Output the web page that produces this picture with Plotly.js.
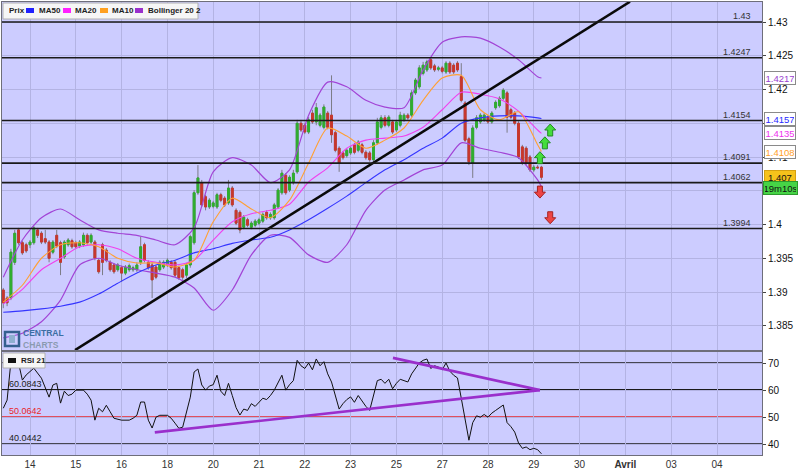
<!DOCTYPE html>
<html><head><meta charset="utf-8">
<script src="https://cdn.plot.ly/plotly-3.0.1.min.js"></script>
<style>html,body{margin:0;padding:0;background:#fff}#chart{width:806px;height:469px}</style>
</head><body><div id="chart"></div>
<script>
// ---------- DATA ----------
const dayTickIdx = [7,19,31,43,55,67,79,91,103,115,127,139,151,163,175,187];
const dayLabels = ['14','15','16','18','20','21','22','23','25','27','28','29','30','<b>Avril</b>','03','04'];
const priceTicks = [1.385,1.39,1.395,1.4,1.405,1.41,1.415,1.42,1.425,1.43];
const priceTickText = ['1.385','1.39','1.395','1.4','','1.41','','1.42','1.425','1.43'];

const open = [1.3903,1.3891,1.3891,1.3944,1.3992,1.3973,1.3970,1.3970,1.3973,1.3992,
1.3987,1.3979,1.3974,1.3959,1.3984,1.3973,1.3952,1.3970,1.3976,1.3973,
1.3968,1.3970,1.3984,1.3974,1.3974,1.3947,1.3970,1.3962,1.3944,1.3940,
1.3933,1.3936,1.3928,1.3933,1.3933,1.3933,1.3944,1.3970,1.3944,1.3940,
1.3937,1.3933,1.3937,1.3940,1.3944,1.3944,1.3936,1.3933,1.3925,1.3940,
1.3973,1.4047,1.4062,1.4041,1.4026,1.4027,1.4026,1.4044,1.4039,1.4032,
1.4054,1.4021,1.4018,1.3996,1.4007,1.3996,1.3999,1.4002,1.4005,1.4018,
1.4010,1.4010,1.4026,1.4047,1.4073,1.4051,1.4062,1.4078,1.4150,1.4147,
1.4137,1.4165,1.4152,1.4147,1.4144,1.4165,1.4162,1.4136,1.4113,1.4106,
1.4102,1.4106,1.4118,1.4110,1.4118,1.4107,1.4106,1.4096,1.4121,1.4144,
1.4158,1.4147,1.4152,1.4140,1.4147,1.4155,1.4162,1.4162,1.4195,1.4204,
1.4224,1.4229,1.4244,1.4235,1.4230,1.4232,1.4226,1.4239,1.4236,1.4239,
1.4219,1.4180,1.4127,1.4091,1.4144,1.4152,1.4155,1.4159,1.4152,1.4173,
1.4176,1.4187,1.4195,1.4170,1.4165,1.4150,1.4115,1.4113,1.4100,1.4081,
1.4085,1.4085];
const high = [1.3906,1.3894,1.3964,1.3992,1.3995,1.3976,1.3973,1.3977,1.3998,1.3995,
1.3990,1.3992,1.3977,1.3977,1.3992,1.3976,1.3977,1.3980,1.3979,1.3976,
1.3977,1.3988,1.3987,1.3987,1.3977,1.3950,1.3973,1.3965,1.3947,1.3943,
1.3943,1.3939,1.3940,1.3942,1.3939,1.3944,1.3982,1.3973,1.3947,1.3944,
1.3940,1.3947,1.3947,1.3950,1.3947,1.3947,1.3939,1.3936,1.3943,1.3985,
1.4051,1.4088,1.4066,1.4044,1.4039,1.4035,1.4047,1.4047,1.4042,1.4066,
1.4057,1.4024,1.4021,1.4014,1.4010,1.4005,1.4008,1.4010,1.4018,1.4021,
1.4018,1.4032,1.4054,1.4081,1.4076,1.4073,1.4081,1.4155,1.4155,1.4150,
1.4159,1.4170,1.4180,1.4165,1.4178,1.4168,1.4221,1.4139,1.4116,1.4109,
1.4113,1.4116,1.4121,1.4125,1.4121,1.4110,1.4109,1.4125,1.4158,1.4162,
1.4162,1.4162,1.4155,1.4155,1.4167,1.4165,1.4165,1.4199,1.4217,1.4236,
1.4241,1.4244,1.4248,1.4238,1.4235,1.4235,1.4242,1.4242,1.4239,1.4242,
1.4239,1.4183,1.4130,1.4147,1.4162,1.4165,1.4165,1.4162,1.4168,1.4184,
1.4190,1.4202,1.4198,1.4173,1.4168,1.4153,1.4118,1.4116,1.4103,1.4088,
1.4088,1.4087];
const low = [1.3876,1.3879,1.3888,1.3940,1.3970,1.3955,1.3958,1.3965,1.3970,1.3980,
1.3971,1.3971,1.3944,1.3956,1.3965,1.3925,1.3949,1.3967,1.3964,1.3964,
1.3965,1.3967,1.3970,1.3971,1.3947,1.3927,1.3925,1.3944,1.3930,1.3927,
1.3930,1.3915,1.3925,1.3930,1.3930,1.3930,1.3940,1.3944,1.3933,1.3891,
1.3919,1.3930,1.3934,1.3937,1.3933,1.3922,1.3918,1.3918,1.3921,1.3936,
1.3970,1.4044,1.4026,1.4021,1.4023,1.4024,1.4023,1.4033,1.4026,1.4029,
1.4026,1.3999,1.3987,1.3993,1.3996,1.3993,1.3996,1.3999,1.4002,1.4007,
1.4007,1.4007,1.4023,1.4044,1.4044,1.4048,1.4059,1.4075,1.4137,1.4134,
1.4134,1.4149,1.4147,1.4144,1.4141,1.4141,1.4121,1.4107,1.4078,1.4096,
1.4099,1.4103,1.4104,1.4107,1.4104,1.4096,1.4093,1.4093,1.4118,1.4141,
1.4144,1.4144,1.4134,1.4137,1.4144,1.4152,1.4155,1.4159,1.4192,1.4201,
1.4221,1.4226,1.4229,1.4226,1.4227,1.4224,1.4223,1.4223,1.4223,1.4226,
1.4181,1.4122,1.4088,1.4069,1.4141,1.4149,1.4152,1.4149,1.4149,1.4170,
1.4173,1.4184,1.4136,1.4156,1.4147,1.4097,1.4088,1.4088,1.4078,1.4078,
1.4082,1.4066];
const close = [1.3884,1.3884,1.3959,1.3987,1.3973,1.3958,1.3961,1.3974,1.3995,1.3984,
1.3974,1.3974,1.3950,1.3974,1.3968,1.3944,1.3974,1.3977,1.3967,1.3967,
1.3974,1.3984,1.3973,1.3984,1.3950,1.3930,1.3944,1.3947,1.3933,1.3930,
1.3940,1.3928,1.3937,1.3939,1.3936,1.3940,1.3967,1.3947,1.3936,1.3918,
1.3922,1.3944,1.3944,1.3947,1.3936,1.3925,1.3921,1.3922,1.3940,1.3982,
1.4047,1.4069,1.4029,1.4026,1.4036,1.4032,1.4044,1.4036,1.4029,1.4054,
1.4029,1.4002,1.3992,1.4011,1.3999,1.4002,1.4005,1.4007,1.4015,1.4010,
1.4015,1.4029,1.4051,1.4076,1.4047,1.4070,1.4076,1.4150,1.4140,1.4137,
1.4155,1.4152,1.4173,1.4162,1.4174,1.4144,1.4133,1.4110,1.4091,1.4099,
1.4110,1.4113,1.4107,1.4122,1.4107,1.4099,1.4096,1.4121,1.4152,1.4158,
1.4147,1.4159,1.4137,1.4152,1.4162,1.4162,1.4158,1.4195,1.4214,1.4232,
1.4236,1.4241,1.4232,1.4229,1.4232,1.4227,1.4239,1.4226,1.4226,1.4229,
1.4184,1.4125,1.4093,1.4143,1.4158,1.4162,1.4162,1.4152,1.4165,1.4181,
1.4187,1.4199,1.4159,1.4159,1.4150,1.4100,1.4091,1.4091,1.4081,1.4085,
1.4084,1.4070];

const lineIdx = [0,5,10,15,20,25,30,35,40,45,50,55,60,65,70,75,80,85,90,95,100,105,110,115,120,125,130,135,140,141];
const ma50 = [1.3870,1.3872,1.3875,1.3879,1.3885,1.3897,1.3913,1.3928,1.3940,1.3947,1.3958,1.3964,1.3972,1.3977,1.3981,1.3992,1.4007,1.4024,1.4042,1.4062,1.4081,1.4096,1.4113,1.4128,1.4150,1.4158,1.4161,1.4161,1.4158,1.4157];
const ma20 = [1.3882,1.3904,1.3933,1.3950,1.3967,1.3970,1.3964,1.3950,1.3944,1.3940,1.3947,1.3977,1.4004,1.4016,1.4021,1.4030,1.4063,1.4084,1.4113,1.4125,1.4128,1.4131,1.4144,1.4170,1.4196,1.4193,1.4186,1.4168,1.4140,1.4135];
const ma10 = [1.3885,1.3910,1.3950,1.3970,1.3973,1.3967,1.3950,1.3943,1.3943,1.3937,1.3947,1.4004,1.4039,1.4023,1.4010,1.4036,1.4091,1.4143,1.4131,1.4113,1.4125,1.4143,1.4184,1.4217,1.4221,1.4170,1.4155,1.4167,1.4118,1.4108];
const bbUpper = [1.3922,1.3977,1.4010,1.4023,1.4007,1.3992,1.3987,1.3984,1.3977,1.3970,1.3995,1.4078,1.4099,1.4088,1.4062,1.4081,1.4162,1.4211,1.4204,1.4184,1.4174,1.4173,1.4229,1.4270,1.4278,1.4276,1.4263,1.4244,1.4219,1.4217];
const bbLower = [1.3832,1.3839,1.3856,1.3888,1.3940,1.3950,1.3940,1.3933,1.3928,1.3922,1.3906,1.3873,1.3903,1.3955,1.3984,1.3981,1.3955,1.3944,1.3970,1.4021,1.4051,1.4066,1.4081,1.4088,1.4121,1.4113,1.4107,1.4099,1.4066,1.4056];

const levels = [1.43,1.4247,1.4154,1.4091,1.4062,1.3994];
const levelLabels = ['1.43','1.4247','1.4154','1.4091','1.4062','1.3994'];

const trendX = [18.8,164.2];
const trendY = [1.3814,1.4330];

const sigUpX = [140.6,141.9,143.3];
const sigUpY = [1.4099,1.4121,1.4140];
const sigDownX = [140.6,143.3];
const sigDownY = [1.4048,1.4010];

const valueBoxes = [
  {v:1.4217, t:'1.4217', c:'#9a3fd0', bg:'#ffffff', bc:'#8a8a8a'},
  {v:1.4157, t:'1.4157', c:'#2a2aff', bg:'#ffffff', bc:'#8a8a8a'},
  {v:1.4135, t:'1.4135', c:'#ee33ee', bg:'#ffffff', bc:'#8a8a8a'},
  {v:1.4108, t:'1.4108', c:'#ff9f2a', bg:'#ffffff', bc:'#8a8a8a'},
  {v:1.4070, t:'1.407',  c:'#111111', bg:'#f6c21b', bc:'#d4a010'}
];
const timerText = '19m10s';

const rsiIdx = [0,1,2,3,4,5,6,8,10,12,13,14,15,16,17,18,19,21,22,23,24,25,26,27,28,29,31,33,34,35,36,37,38,39,40,41,43,44,45,46,47,48,49,50,51,52,53,54,55,56,57,58,59,60,61,62,63,64,65,66,67,68,69,70,71,72,73,74,75,76,77,78,79,80,81,82,83,84,85,86,87,88,89,90,91,92,93,94,95,96,97,98,99,100,101,102,103,104,105,106,107,108,109,110,111,112,113,114,115,116,117,118,119,120,121,122,123,124,125,126,127,128,129,130,131,132,133,134,135,136,137,138,139,140,141];
const rsiVal = [53.3,56.3,70.5,73.5,70,63.7,65.6,68.1,64.4,57.4,61.9,62.5,55.2,59.6,58,58.5,60,60,58.5,56.3,48.9,53.3,52,54.4,52,49.6,48.9,48.9,49.6,50.7,55.6,55.6,48.9,46,50,50.7,
50.7,49.6,47.8,45.9,46.3,52,57.4,66.7,67.8,61.9,
60,61.5,62,65.5,59.6,58,62.5,58,53.5,50.8,
53,52.5,55,54,55.5,57,56.5,58,60,62.5,
65.5,60,62,63.5,71,69,68,70,67.5,71.5,
69,70.5,66,63,58,53,55,56.5,57.5,55.5,
58,56,54,52.5,58,63.5,64,62.5,64,60.5,
62.5,64,63.5,63,66,68,70,71,71.5,68,
69,68.5,67.5,70,67,65.5,64.5,57,49,41.5,
48,50.5,50,51,50,51.5,52.5,53.5,54.5,48,
46.5,44.5,40.5,38.5,39,38,38.5,38,36.5];
const rsiLevels = [70,60.0843,50.0642,40.0442];
const rsiLevelLabels = ['','60.0843','50.0642','40.0442'];
const rsiLevelColors = ['#1a1a1a','#1a1a1a','#e8262a','#1a1a1a'];
const triLowX = [39.7,140.6], triLowY = [44.4,60.0];
const triUpX = [102.1,140.6], triUpY = [71.9,60.0];

// ---------- GEOMETRY HELPERS (layout only) ----------
const W=806,H=469,ML=2,MR=44,MT=2,MB=14;
const PW=W-ML-MR, PH=H-MT-MB;
const PX = px => (px-ML)/PW;
const PY = py => (H-MB-py)/PH;
const xr0 = -0.336, xr1 = 198.79;

const FONT = 'Liberation Sans, Arial, Helvetica, sans-serif';
const idx = open.map((_,i)=>i);
const bodyHi = open.map((o,i)=>Math.max(o,close[i]));
const bodyLo = open.map((o,i)=>Math.min(o,close[i]));

const GREEN='#2fae2f', RED='#c8372d';
const traces = [
  {type:'candlestick', x:idx, open:open, high:high, low:low, close:close, xaxis:'x', yaxis:'y',
   increasing:{line:{color:'#7c7c86',width:1}, fillcolor:GREEN},
   decreasing:{line:{color:'#7c7c86',width:1}, fillcolor:RED}, whiskerwidth:0, hoverinfo:'skip'},
  {type:'candlestick', x:idx, open:open, high:bodyHi, low:bodyLo, close:close, xaxis:'x', yaxis:'y',
   increasing:{line:{color:GREEN,width:1}, fillcolor:GREEN},
   decreasing:{line:{color:RED,width:1}, fillcolor:RED}, whiskerwidth:0, hoverinfo:'skip'},
  {type:'scatter', mode:'lines', x:lineIdx, y:bbUpper, line:{color:'#a244d6',width:1.2,shape:'spline',smoothing:0.7}, xaxis:'x', yaxis:'y'},
  {type:'scatter', mode:'lines', x:lineIdx, y:bbLower, line:{color:'#a244d6',width:1.2,shape:'spline',smoothing:0.7}, xaxis:'x', yaxis:'y'},
  {type:'scatter', mode:'lines', x:lineIdx, y:ma50, line:{color:'#3535ff',width:1.1,shape:'spline',smoothing:0.7}, xaxis:'x', yaxis:'y'},
  {type:'scatter', mode:'lines', x:lineIdx, y:ma20, line:{color:'#f040ee',width:1.1,shape:'spline',smoothing:0.7}, xaxis:'x', yaxis:'y'},
  {type:'scatter', mode:'lines', x:lineIdx, y:ma10, line:{color:'#ffa033',width:1.1,shape:'spline',smoothing:0.7}, xaxis:'x', yaxis:'y'},
  {type:'scatter', mode:'lines', x:trendX, y:trendY, line:{color:'#0a0a0a',width:2.6}, xaxis:'x', yaxis:'y'},
  {type:'scatter', mode:'lines', x:rsiIdx, y:rsiVal, line:{color:'#111',width:1}, xaxis:'x2', yaxis:'y2'},
  {type:'scatter', mode:'lines', x:triLowX, y:triLowY, line:{color:'#9a2fcc',width:2.6}, xaxis:'x2', yaxis:'y2'},
  {type:'scatter', mode:'lines', x:triUpX, y:triUpY, line:{color:'#9a2fcc',width:2.6}, xaxis:'x2', yaxis:'y2'}
];

const shapes = [];
const annotations = [];

levels.forEach((v,i)=>{
  shapes.push({type:'line', xref:'paper', yref:'y', x0:0, x1:1, y0:v, y1:v, line:{color:'#1a1a1a',width:1.6}, layer:'above'});
  annotations.push({xref:'paper', yref:'y', x:PX(753), y:v, yshift:6, xanchor:'right', yanchor:'middle', showarrow:false,
    text:levelLabels[i], font:{family:FONT,size:9,color:'#333'}});
});
rsiLevels.forEach((v,i)=>{
  shapes.push({type:'line', xref:'paper', yref:'y2', x0:0, x1:1, y0:v, y1:v, line:{color:rsiLevelColors[i],width:1.6}, layer:'below'});
  if (rsiLevelLabels[i]) annotations.push({xref:'paper', yref:'y2', x:PX(7), y:v, yshift:6, xanchor:'left', yanchor:'middle', showarrow:false,
    text:rsiLevelLabels[i], font:{family:FONT,size:9,color:rsiLevelColors[i]==='#1a1a1a'?'#222':rsiLevelColors[i]}});
});

const upPath = 'M0,6 L5.5,0 L2.5,0 L2.5,-6 L-2.5,-6 L-2.5,0 L-5.5,0 Z';
const downPath = 'M0,-6 L5.5,0 L2.5,0 L2.5,6 L-2.5,6 L-2.5,0 L-5.5,0 Z';
sigUpX.forEach((x,i)=>shapes.push({type:'path', xref:'x', yref:'y', xsizemode:'pixel', ysizemode:'pixel', xanchor:x, yanchor:sigUpY[i],
  path:upPath, fillcolor:'#44dd3c', line:{color:'#238a23',width:1}, layer:'above'}));
sigDownX.forEach((x,i)=>shapes.push({type:'path', xref:'x', yref:'y', xsizemode:'pixel', ysizemode:'pixel', xanchor:x, yanchor:sigDownY[i],
  path:downPath, fillcolor:'#ee4444', line:{color:'#a32222',width:1}, layer:'above'}));

valueBoxes.forEach(b=>{
  annotations.push({xref:'paper', yref:'y', x:PX(764), y:b.v, xanchor:'left', yanchor:'middle', showarrow:false,
    text:b.t, font:{family:FONT,size:9.5,color:b.c}, bgcolor:b.bg, bordercolor:b.bc, borderwidth:1, borderpad:1, width:28, height:10, align:'center'});
});
annotations.push({xref:'paper', yref:'paper', x:PX(763), y:PY(188), xanchor:'left', yanchor:'middle', showarrow:false,
  text:timerText, font:{family:FONT,size:9.5,color:'#111'}, bgcolor:'#46d446', bordercolor:'#2d9a2d', borderwidth:1, borderpad:1, width:31, height:10, align:'center'});

shapes.push({type:'rect', xref:'paper', yref:'paper', x0:PX(3), x1:PX(198), y0:PY(19), y1:PY(3), fillcolor:'#f6f6f6', line:{color:'#b0b0b0',width:1}, layer:'above'});
const legItems = [
  {px:26, c:'#2020ff', t:'MA50', tx:37},
  {px:63, c:'#ff20ff', t:'MA20', tx:73},
  {px:100, c:'#ffa020', t:'MA10', tx:110},
  {px:135, c:'#9a30cc', t:'Bollinger 20 2', tx:146}
];
annotations.push({xref:'paper', yref:'paper', x:PX(7), y:PY(11), xanchor:'left', yanchor:'middle', showarrow:false, text:'<b>Prix</b>', font:{family:FONT,size:8,color:'#222'}});
legItems.forEach(it=>{
  shapes.push({type:'rect', xref:'paper', yref:'paper', x0:PX(it.px), x1:PX(it.px+8), y0:PY(13), y1:PY(8), fillcolor:it.c, line:{width:0}, layer:'above'});
  annotations.push({xref:'paper', yref:'paper', x:PX(it.tx), y:PY(11), xanchor:'left', yanchor:'middle', showarrow:false, text:'<b>'+it.t+'</b>', font:{family:FONT,size:8,color:'#222'}});
});
shapes.push({type:'rect', xref:'paper', yref:'paper', x0:PX(3), x1:PX(45), y0:PY(368), y1:PY(353), fillcolor:'#f6f6f6', line:{color:'#b0b0b0',width:1}, layer:'above'});
shapes.push({type:'rect', xref:'paper', yref:'paper', x0:PX(8), x1:PX(16), y0:PY(363), y1:PY(358), fillcolor:'#111', line:{width:0}, layer:'above'});
annotations.push({xref:'paper', yref:'paper', x:PX(19), y:PY(360.5), xanchor:'left', yanchor:'middle', showarrow:false, text:'<b>RSI 21</b>', font:{family:FONT,size:8,color:'#222'}});

shapes.push({type:'rect', xref:'paper', yref:'paper', x0:PX(5), x1:PX(19), y0:PY(346), y1:PY(332), fillcolor:'rgba(0,0,0,0)', line:{color:'#35608f',width:2.5}, layer:'above'});
shapes.push({type:'rect', xref:'paper', yref:'paper', x0:PX(9), x1:PX(15), y0:PY(343), y1:PY(335), fillcolor:'#8fb0d0', line:{width:0}, layer:'above'});
annotations.push({xref:'paper', yref:'paper', x:PX(22), y:PY(339.5), xanchor:'left', yanchor:'bottom', showarrow:false, borderpad:0, text:'<b>CENTRAL</b>', font:{family:FONT,size:8.5,color:'#3b6ea3'}});
annotations.push({xref:'paper', yref:'paper', x:PX(22), y:PY(339.5), xanchor:'left', yanchor:'top', showarrow:false, borderpad:0, text:'<b>CHARTS</b>', font:{family:FONT,size:8.5,color:'#8a9ab0'}});

const GRID='#b3b3e3';
const layout = {
  width:W, height:H, margin:{l:ML,r:MR,t:MT,b:MB}, autosize:false,
  paper_bgcolor:'#ffffff', plot_bgcolor:'#ccccff', showlegend:false, hovermode:false,
  font:{family:FONT,size:10,color:'#222'},
  xaxis:{domain:[0,1], anchor:'y', range:[xr0,xr1], tickvals:dayTickIdx, ticktext:dayLabels, showticklabels:false,
    showgrid:true, gridcolor:GRID, gridwidth:1, zeroline:false, showline:true, mirror:true, linecolor:'#6e6e7a', linewidth:1,
    ticks:'', rangeslider:{visible:false}, fixedrange:true},
  yaxis:{domain:[PY(350),1], anchor:'x', range:[1.43-328/6750, 1.43+20/6750], side:'right', tickvals:priceTicks, ticktext:priceTickText,
    ticks:'outside', ticklen:3, tickcolor:'#444', showgrid:true, gridcolor:GRID, zeroline:false, showline:true, mirror:true,
    linecolor:'#6e6e7a', linewidth:1, tickfont:{family:FONT,size:10,color:'#111'}, fixedrange:true},
  xaxis2:{domain:[0,1], anchor:'y2', range:[xr0,xr1], tickvals:dayTickIdx, ticktext:dayLabels, showticklabels:true,
    showgrid:true, gridcolor:GRID, zeroline:false, showline:true, mirror:true, linecolor:'#6e6e7a', linewidth:1,
    ticks:'', tickfont:{family:FONT,size:10,color:'#333'}, fixedrange:true},
  yaxis2:{domain:[0,PY(352)], anchor:'x2', range:[40-10.7/2.7, 70+11/2.7], side:'right', tickvals:[40,50,60,70],
    ticks:'outside', ticklen:3, tickcolor:'#444', showgrid:true, gridcolor:GRID, zeroline:false, showline:true, mirror:true,
    linecolor:'#6e6e7a', linewidth:1, tickfont:{family:FONT,size:10,color:'#111'}, fixedrange:true},
  shapes:shapes, annotations:annotations
};
Plotly.newPlot('chart', traces, layout, {displayModeBar:false, staticPlot:true});
</script></body></html>
